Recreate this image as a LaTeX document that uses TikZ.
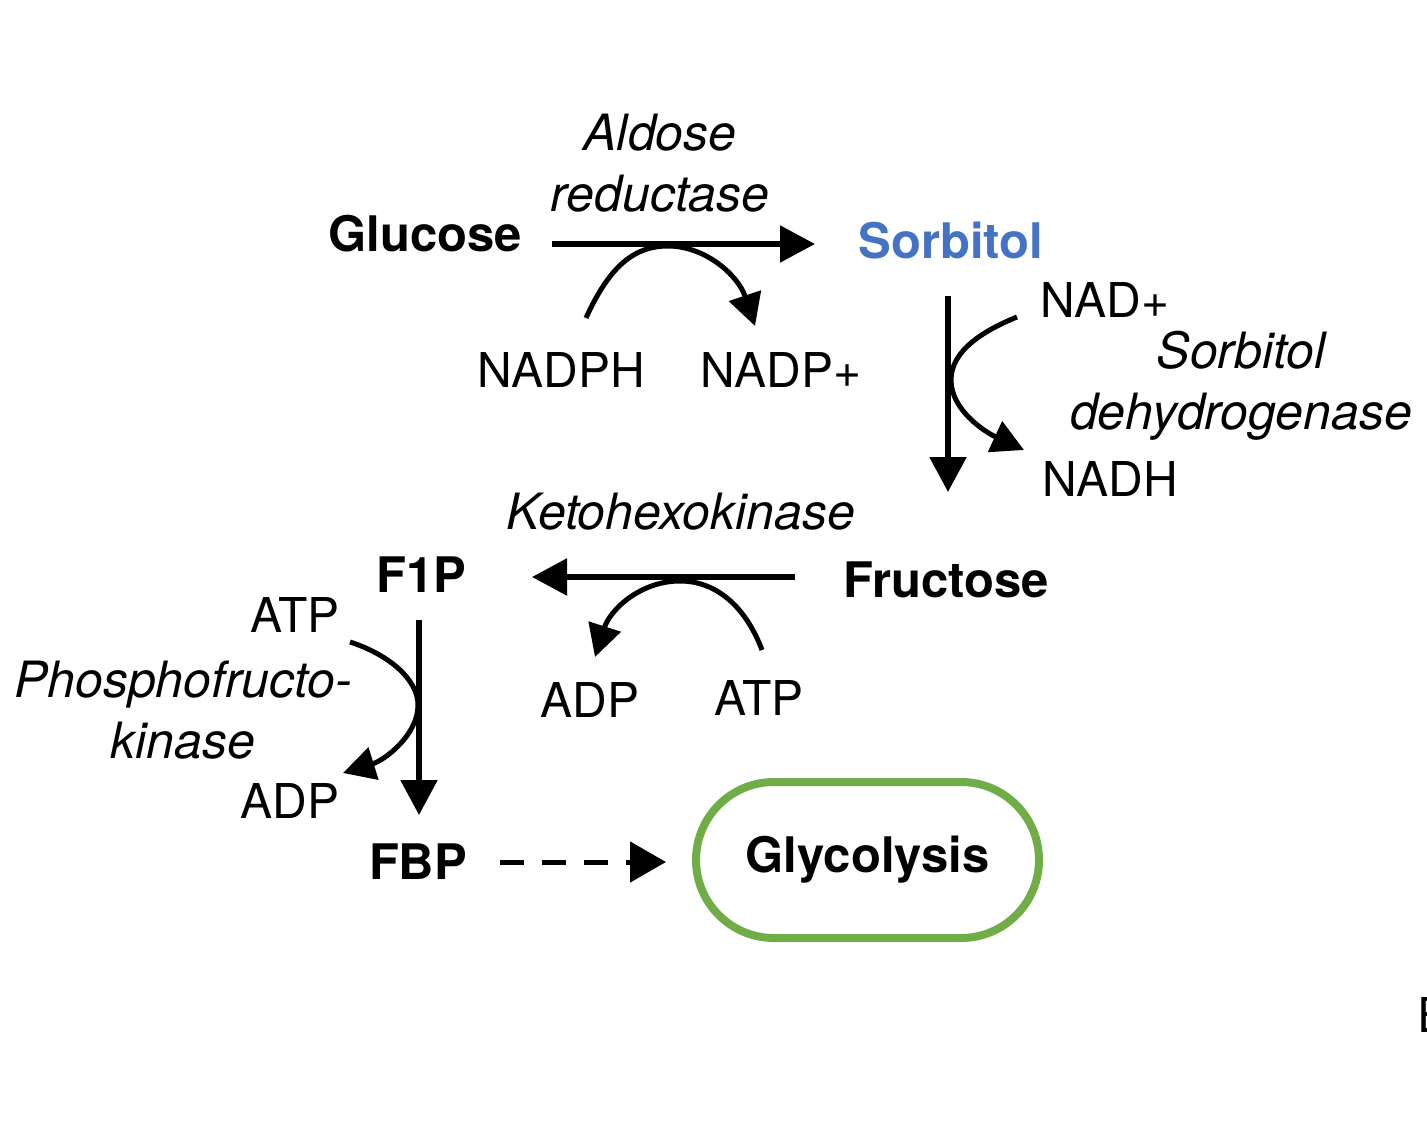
\documentclass[tikz,border=0pt]{standalone}
\usepackage{fontspec}
\setmainfont{TeX Gyre Heros}
\usepackage{xcolor}
\usetikzlibrary{arrows.meta}
\definecolor{sorbblue}{HTML}{4472C4}
\definecolor{glygreen}{HTML}{70AD47}
\tikzset{
	lbl/.style={inner sep=0pt, font=\fontsize{48}{61}\selectfont},
	met/.style={lbl, font=\fontsize{49}{61}\selectfont\bfseries},
	enz/.style={lbl, align=center, font=\fontsize{50}{61}\selectfont\itshape},
	rxn/.style={line width=5.5pt, -{Triangle[length=35pt,width=36pt]}},
	side/.style={line width=5pt, -{Triangle[length=32pt,width=33pt]}}
}
\begin{document}
\begin{tikzpicture}[x=1pt,y=1pt]
	\useasboundingbox (0,0) rectangle (1427,-1123);
	
	% metabolites
	\node[met, anchor=base] (glucose) at (425,-252) {Glucose};
	\node[met, anchor=base, text=sorbblue] (sorbitol) at (951,-259) {Sorbitol};
	\node[met, anchor=base] (fructose) at (946,-597) {Fructose};
	\node[met, anchor=base] (f1p) at (421,-592) {F1P};
	\node[met, anchor=base] (fbp) at (418,-879) {FBP};
	\node[met, draw=glygreen, line width=8pt, rounded corners=78pt,
		minimum width=343pt, minimum height=156pt] (glyco) at (867.5,-860) {Glycolysis};
	
	% cofactors
	\node[lbl, anchor=base] (nadph) at (561,-387) {NADPH};
	\node[lbl, anchor=base] (nadpp) at (781,-387) {NADP+};
	\node[lbl, anchor=base] (nadp) at (1105,-317) {NAD+};
	\node[lbl, anchor=base] (nadh) at (1110,-496) {NADH};
	\node[lbl, anchor=base] (adpk) at (590,-717) {ADP};
	\node[lbl, anchor=base] (atpk) at (759,-715) {ATP};
	\node[lbl, anchor=base] (atpp) at (295,-632) {ATP};
	\node[lbl, anchor=base] (adpp) at (290,-818) {ADP};
	
	% enzymes
	\node[enz] (aldose) at (660,-163) {Aldose\\reductase};
	\node[enz] (sdh) at (1241,-386) {Sorbitol\\dehydrogenase};
	\node[enz, anchor=base] (khk) at (681,-529) {Ketohexokinase};
	\node[enz] (pfk) at (183,-710) {Phosphofructo-\\kinase};
	
	% cut-off label at the edge
	\node[lbl, anchor=base west] (edge) at (1417,-1032) {E};
	
	% reaction arrows
	\coordinate (g1) at (552,-244);
	\coordinate (g2) at (815,-244);
	\coordinate (s1) at (948,-296);
	\coordinate (s2) at (948,-492);
	\coordinate (k1) at (795,-577);
	\coordinate (k2) at (532,-577);
	\coordinate (p1) at (419,-620);
	\coordinate (p2) at (419,-815);
	\draw[rxn] (g1) -- (g2);
	\draw[rxn] (s1) -- (s2);
	\draw[rxn] (k1) -- (k2);
	\draw[rxn] (p1) -- (p2);
	
	% cofactor arcs
	\coordinate (a1) at (586,-318);
	\coordinate (a2) at (755,-326);
	\draw[side] (a1) .. controls (610,-265) and (635,-246) .. (668,-246)
		.. controls (705,-246) and (738,-275) .. (a2);
	\coordinate (b1) at (1017,-317);
	\coordinate (b2) at (1024,-450);
	\draw[side] (b1) .. controls (985,-330) and (951,-350) .. (951,-380)
		.. controls (951,-410) and (985,-432) .. (b2);
	\coordinate (c1) at (762,-650);
	\coordinate (c2) at (595,-657);
	\draw[side] (c1) .. controls (745,-605) and (715,-581) .. (680,-581)
		.. controls (640,-581) and (610,-610) .. (c2);
	\coordinate (d1) at (350,-642);
	\coordinate (d2) at (343,-773);
	\draw[side] (d1) .. controls (390,-655) and (418,-680) .. (418,-705)
		.. controls (418,-735) and (385,-760) .. (d2);
	
	% to glycolysis
	\draw[line width=5pt, dash pattern=on 24pt off 18pt,
		-{Triangle[length=36pt,width=40pt]}] ([xshift=33pt]fbp.east |- 0,-862) -- ([xshift=-26pt]glyco.west |- 0,-862);
\end{tikzpicture}
\end{document}
